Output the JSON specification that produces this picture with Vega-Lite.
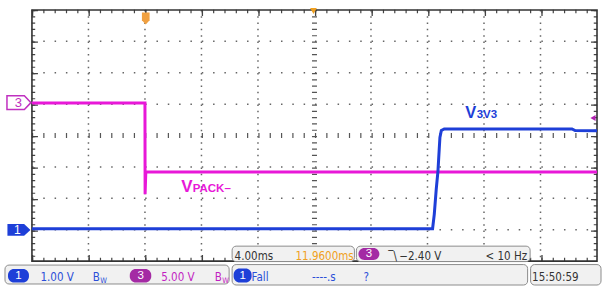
{
"$schema": "https://vega.github.io/schema/vega-lite/v6.json",
"width": 603, "height": 286,
"autosize": {"type": "fit", "contains": "padding"},
"padding": 0,
"background": "white",
"config": {"view": {"stroke": null}},
"datasets": {
"ch1": [{"t":-8,"v":-2.97},{"t":20.36,"v":-2.97},{"t":20.48,"v":-2.51},{"t":20.62,"v":-1.71},{"t":20.74,"v":-1.14},{"t":20.83,"v":-0.44},{"t":20.88,"v":-0.06},{"t":20.98,"v":0.16},{"t":21.19,"v":0.21},{"t":30.23,"v":0.21},{"t":30.45,"v":0.16},{"t":32,"v":0.15}],
"ch3": [{"t":-8,"v":1.04},{"t":0,"v":1.04},{"t":0.01,"v":-1.87},{"t":0.06,"v":-1.16},{"t":32,"v":-1.16}],
"vgrid": [{"t":-4},{"t":0},{"t":4},{"t":8},{"t":16},{"t":20},{"t":24},{"t":28}],
"hgrid": [{"v":-3},{"v":-2},{"v":-1},{"v":1},{"v":2},{"v":3}],
"center": [{"t":12,"v":0}],
"vborder": [{"t":-7.894},{"t":31.894}],
"hborder": [{"v":3.952},{"v":-3.952}],
"vmajor": [{"t":-7.788},{"t":31.788}],
"hmajor": [{"v":3.905},{"v":-3.905}],
"boxes": [{"t":6.17,"t2":14.827,"v":-3.524,"v2":-4.016},{"t":14.968,"t2":27.265,"v":-3.524,"v2":-4.016},{"t":-9.908,"t2":5.958,"v":-4.127,"v2":-4.73},{"t":6.17,"t2":27.088,"v":-4.111,"v2":-4.762},{"t":27.3,"t2":32.283,"v":-4.111,"v2":-4.762}],
"pillBlue": [{"t":-9.696,"t2":-8.212,"v":-4.254,"v2":-4.683},{"t":6.276,"t2":7.548,"v":-4.238,"v2":-4.683}],
"pillPurple": [{"t":-1.074,"t2":0.445,"v":-4.254,"v2":-4.683},{"t":15.11,"t2":16.594,"v":-3.587,"v2":-3.968}],
"pillText": [{"t":-8.954,"v":-4.46,"s":"1"},{"t":-0.297,"v":-4.46,"s":"3"},{"t":6.912,"v":-4.46,"s":"1"},{"t":15.85,"v":-3.778,"s":"3"}],
"txtBlue": [{"t":-7.399,"v":-4.635,"s":"1.00 V"},{"t":-3.689,"v":-4.635,"s":"B"},{"t":7.548,"v":-4.635,"s":"Fall"},{"t":11.823,"v":-4.635,"s":"----.s"},{"t":15.463,"v":-4.635,"s":"?"}],
"subBlue": [{"t":-3.159,"v":-4.698,"s":"W"}],
"txtMag": [{"t":1.152,"v":-4.635,"s":"5.00 V"},{"t":4.933,"v":-4.635,"s":"B"}],
"subMag": [{"t":5.463,"v":-4.698,"s":"W"}],
"txtDark": [{"t":6.346,"v":-3.952,"s":"4.00ms"},{"t":17.23,"v":-3.952,"s":"‾\\"},{"t":18.007,"v":-3.952,"s":"−2.40 V"},{"t":27.406,"v":-4.635,"s":"15:50:59"}],
"txtDarkR": [{"t":27.053,"v":-3.952,"s":"< 10 Hz"}],
"txtOrange": [{"t":10.657,"v":-3.952,"s":"11.9600ms"}],
"mk3": [{"t":-8.919,"v":1.048}],
"mk3t": [{"t":-8.954,"v":1.032,"s":"3"}],
"mk1": [{"t":-8.919,"v":-3.006}],
"mk1t": [{"t":-9.025,"v":-3.006,"s":"1"}],
"trig": [{"t":0.0565,"v":3.73}],
"expand": [{"t":11.93,"v":3.968}],
"arrow": [{"t":31.717,"v":0.556}],
"lblBigV": [{"t":22.671,"v":0.556,"s":"V"}],
"lblSub3": [{"t":23.484,"v":0.556,"s":"3V3"}],
"lblBigP": [{"t":2.565,"v":-1.81,"s":"V"}],
"lblSubP": [{"t":3.378,"v":-1.81,"s":"PACK–"}]
},
"layer": [
{"data":{"name":"vgrid"},"mark":{"type":"rule","stroke":"#666","strokeWidth":1.5,"strokeDash":[1.5,4.8]},
 "encoding":{"x":{"field":"t","type":"quantitative","scale":{"domain":[-10.2615,32.3534],"nice":false,"zero":false},"axis":null},
 "y":{"datum":4,"type":"quantitative","scale":{"domain":[-4.7619,4.3175],"nice":false,"zero":false},"axis":null},"y2":{"datum":-4}}},
{"data":{"name":"hgrid"},"mark":{"type":"rule","stroke":"#666","strokeWidth":1.5,"strokeDash":[1.5,9.82]},
 "encoding":{"y":{"field":"v","type":"quantitative","scale":{"domain":[-4.7619,4.3175],"nice":false,"zero":false},"axis":null},
 "x":{"datum":-8,"type":"quantitative","scale":{"domain":[-10.2615,32.3534],"nice":false,"zero":false},"axis":null},"x2":{"datum":32}}},
{"data":{"name":"center"},"mark":{"type":"rule","stroke":"#555","strokeWidth":5,"strokeDash":[1.2,5.1]},
 "encoding":{"x":{"field":"t","type":"quantitative","scale":{"domain":[-10.2615,32.3534],"nice":false,"zero":false},"axis":null},
 "y":{"datum":4,"type":"quantitative","scale":{"domain":[-4.7619,4.3175],"nice":false,"zero":false},"axis":null},"y2":{"datum":-4}}},
{"data":{"name":"center"},"mark":{"type":"rule","stroke":"#555","strokeWidth":5,"strokeDash":[1.2,10.12]},
 "encoding":{"y":{"field":"v","type":"quantitative","scale":{"domain":[-4.7619,4.3175],"nice":false,"zero":false},"axis":null},
 "x":{"datum":-8,"type":"quantitative","scale":{"domain":[-10.2615,32.3534],"nice":false,"zero":false},"axis":null},"x2":{"datum":32}}},
{"data":{"name":"vborder"},"mark":{"type":"rule","stroke":"#444","strokeWidth":3.5,"strokeDash":[1.2,5.1]},
 "encoding":{"x":{"field":"t","type":"quantitative","scale":{"domain":[-10.2615,32.3534],"nice":false,"zero":false},"axis":null},
 "y":{"datum":4,"type":"quantitative","scale":{"domain":[-4.7619,4.3175],"nice":false,"zero":false},"axis":null},"y2":{"datum":-4}}},
{"data":{"name":"hborder"},"mark":{"type":"rule","stroke":"#444","strokeWidth":3.5,"strokeDash":[1.2,10.12]},
 "encoding":{"y":{"field":"v","type":"quantitative","scale":{"domain":[-4.7619,4.3175],"nice":false,"zero":false},"axis":null},
 "x":{"datum":-8,"type":"quantitative","scale":{"domain":[-10.2615,32.3534],"nice":false,"zero":false},"axis":null},"x2":{"datum":32}}},
{"data":{"name":"vmajor"},"mark":{"type":"rule","stroke":"#444","strokeWidth":6,"strokeDash":[1.3,30.2]},
 "encoding":{"x":{"field":"t","type":"quantitative","scale":{"domain":[-10.2615,32.3534],"nice":false,"zero":false},"axis":null},
 "y":{"datum":4,"type":"quantitative","scale":{"domain":[-4.7619,4.3175],"nice":false,"zero":false},"axis":null},"y2":{"datum":-4}}},
{"data":{"name":"hmajor"},"mark":{"type":"rule","stroke":"#444","strokeWidth":6,"strokeDash":[1.3,55.3]},
 "encoding":{"y":{"field":"v","type":"quantitative","scale":{"domain":[-4.7619,4.3175],"nice":false,"zero":false},"axis":null},
 "x":{"datum":-8,"type":"quantitative","scale":{"domain":[-10.2615,32.3534],"nice":false,"zero":false},"axis":null},"x2":{"datum":32}}},
{"data":{"values":[{}]},"mark":{"type":"rect","fill":null,"fillOpacity":0,"stroke":"#333","strokeWidth":1.6},
 "encoding":{"x":{"datum":-8,"type":"quantitative","scale":{"domain":[-10.2615,32.3534],"nice":false,"zero":false},"axis":null},"x2":{"datum":32},
 "y":{"datum":4,"type":"quantitative","scale":{"domain":[-4.7619,4.3175],"nice":false,"zero":false},"axis":null},"y2":{"datum":-4}}},
{"data":{"name":"ch3"},"mark":{"type":"line","stroke":"#e818d8","strokeWidth":3,"interpolate":"linear"},
 "encoding":{"x":{"field":"t","type":"quantitative","scale":{"domain":[-10.2615,32.3534],"nice":false,"zero":false},"axis":null},
 "y":{"field":"v","type":"quantitative","scale":{"domain":[-4.7619,4.3175],"nice":false,"zero":false},"axis":null}}},
{"data":{"name":"ch1"},"mark":{"type":"line","stroke":"#1e3fd8","strokeWidth":3,"interpolate":"linear"},
 "encoding":{"x":{"field":"t","type":"quantitative","scale":{"domain":[-10.2615,32.3534],"nice":false,"zero":false},"axis":null},
 "y":{"field":"v","type":"quantitative","scale":{"domain":[-4.7619,4.3175],"nice":false,"zero":false},"axis":null}}},
{"data":{"name":"boxes"},"mark":{"type":"rect","fill":"#f1f1f1","stroke":"#8c8c8c","strokeWidth":1,"cornerRadius":4},
 "encoding":{"x":{"field":"t","type":"quantitative","scale":{"domain":[-10.2615,32.3534],"nice":false,"zero":false},"axis":null},"x2":{"field":"t2"},
 "y":{"field":"v","type":"quantitative","scale":{"domain":[-4.7619,4.3175],"nice":false,"zero":false},"axis":null},"y2":{"field":"v2"}}},
{"data":{"name":"pillBlue"},"mark":{"type":"rect","fill":"#1e3fd8","cornerRadius":6},
 "encoding":{"x":{"field":"t","type":"quantitative","scale":{"domain":[-10.2615,32.3534],"nice":false,"zero":false},"axis":null},"x2":{"field":"t2"},
 "y":{"field":"v","type":"quantitative","scale":{"domain":[-4.7619,4.3175],"nice":false,"zero":false},"axis":null},"y2":{"field":"v2"}}},
{"data":{"name":"pillPurple"},"mark":{"type":"rect","fill":"#a42aa4","cornerRadius":6},
 "encoding":{"x":{"field":"t","type":"quantitative","scale":{"domain":[-10.2615,32.3534],"nice":false,"zero":false},"axis":null},"x2":{"field":"t2"},
 "y":{"field":"v","type":"quantitative","scale":{"domain":[-4.7619,4.3175],"nice":false,"zero":false},"axis":null},"y2":{"field":"v2"}}},
{"data":{"name":"pillText"},"mark":{"type":"text","color":"white","font":"Liberation Sans","fontSize":11.5,"align":"center","baseline":"middle"},
 "encoding":{"x":{"field":"t","type":"quantitative","scale":{"domain":[-10.2615,32.3534],"nice":false,"zero":false},"axis":null},
 "y":{"field":"v","type":"quantitative","scale":{"domain":[-4.7619,4.3175],"nice":false,"zero":false},"axis":null},"text":{"field":"s"}}},
{"data":{"name":"txtBlue"},"mark":{"type":"text","color":"#2b4fd8","font":"DejaVu Sans Condensed, sans-serif","fontSize":11.5,"align":"left","baseline":"alphabetic"},
 "encoding":{"x":{"field":"t","type":"quantitative","scale":{"domain":[-10.2615,32.3534],"nice":false,"zero":false},"axis":null},
 "y":{"field":"v","type":"quantitative","scale":{"domain":[-4.7619,4.3175],"nice":false,"zero":false},"axis":null},"text":{"field":"s"}}},
{"data":{"name":"subBlue"},"mark":{"type":"text","color":"#2b4fd8","font":"DejaVu Sans Condensed, sans-serif","fontSize":7.5,"align":"left","baseline":"alphabetic"},
 "encoding":{"x":{"field":"t","type":"quantitative","scale":{"domain":[-10.2615,32.3534],"nice":false,"zero":false},"axis":null},
 "y":{"field":"v","type":"quantitative","scale":{"domain":[-4.7619,4.3175],"nice":false,"zero":false},"axis":null},"text":{"field":"s"}}},
{"data":{"name":"txtMag"},"mark":{"type":"text","color":"#c21fc2","font":"DejaVu Sans Condensed, sans-serif","fontSize":11.5,"align":"left","baseline":"alphabetic"},
 "encoding":{"x":{"field":"t","type":"quantitative","scale":{"domain":[-10.2615,32.3534],"nice":false,"zero":false},"axis":null},
 "y":{"field":"v","type":"quantitative","scale":{"domain":[-4.7619,4.3175],"nice":false,"zero":false},"axis":null},"text":{"field":"s"}}},
{"data":{"name":"subMag"},"mark":{"type":"text","color":"#c21fc2","font":"DejaVu Sans Condensed, sans-serif","fontSize":7.5,"align":"left","baseline":"alphabetic"},
 "encoding":{"x":{"field":"t","type":"quantitative","scale":{"domain":[-10.2615,32.3534],"nice":false,"zero":false},"axis":null},
 "y":{"field":"v","type":"quantitative","scale":{"domain":[-4.7619,4.3175],"nice":false,"zero":false},"axis":null},"text":{"field":"s"}}},
{"data":{"name":"txtDark"},"mark":{"type":"text","color":"#333","font":"DejaVu Sans Condensed, sans-serif","fontSize":11.5,"align":"left","baseline":"alphabetic"},
 "encoding":{"x":{"field":"t","type":"quantitative","scale":{"domain":[-10.2615,32.3534],"nice":false,"zero":false},"axis":null},
 "y":{"field":"v","type":"quantitative","scale":{"domain":[-4.7619,4.3175],"nice":false,"zero":false},"axis":null},"text":{"field":"s"}}},
{"data":{"name":"txtDarkR"},"mark":{"type":"text","color":"#333","font":"DejaVu Sans Condensed, sans-serif","fontSize":11.5,"align":"right","baseline":"alphabetic"},
 "encoding":{"x":{"field":"t","type":"quantitative","scale":{"domain":[-10.2615,32.3534],"nice":false,"zero":false},"axis":null},
 "y":{"field":"v","type":"quantitative","scale":{"domain":[-4.7619,4.3175],"nice":false,"zero":false},"axis":null},"text":{"field":"s"}}},
{"data":{"name":"txtOrange"},"mark":{"type":"text","color":"#f0a020","font":"DejaVu Sans Condensed, sans-serif","fontSize":11.5,"align":"left","baseline":"alphabetic"},
 "encoding":{"x":{"field":"t","type":"quantitative","scale":{"domain":[-10.2615,32.3534],"nice":false,"zero":false},"axis":null},
 "y":{"field":"v","type":"quantitative","scale":{"domain":[-4.7619,4.3175],"nice":false,"zero":false},"axis":null},"text":{"field":"s"}}},
{"data":{"name":"mk3"},"mark":{"type":"point","shape":"M-1,-0.58L0.45,-0.58L1,0L0.45,0.58L-1,0.58Z","size":576,"filled":true,"fill":"white","stroke":"#c030c0","strokeWidth":1.5,"opacity":1},
 "encoding":{"x":{"field":"t","type":"quantitative","scale":{"domain":[-10.2615,32.3534],"nice":false,"zero":false},"axis":null},
 "y":{"field":"v","type":"quantitative","scale":{"domain":[-4.7619,4.3175],"nice":false,"zero":false},"axis":null}}},
{"data":{"name":"mk3t"},"mark":{"type":"text","color":"#c030c0","font":"Liberation Sans","fontSize":13,"align":"center","baseline":"middle"},
 "encoding":{"x":{"field":"t","type":"quantitative","scale":{"domain":[-10.2615,32.3534],"nice":false,"zero":false},"axis":null},
 "y":{"field":"v","type":"quantitative","scale":{"domain":[-4.7619,4.3175],"nice":false,"zero":false},"axis":null},"text":{"field":"s"}}},
{"data":{"name":"mk1"},"mark":{"type":"point","shape":"M-1,-0.52L0.45,-0.52L1,0L0.45,0.52L-1,0.52Z","size":529,"filled":true,"fill":"#1e3fd8","opacity":1},
 "encoding":{"x":{"field":"t","type":"quantitative","scale":{"domain":[-10.2615,32.3534],"nice":false,"zero":false},"axis":null},
 "y":{"field":"v","type":"quantitative","scale":{"domain":[-4.7619,4.3175],"nice":false,"zero":false},"axis":null}}},
{"data":{"name":"mk1t"},"mark":{"type":"text","color":"white","font":"Liberation Sans","fontSize":12,"align":"center","baseline":"middle"},
 "encoding":{"x":{"field":"t","type":"quantitative","scale":{"domain":[-10.2615,32.3534],"nice":false,"zero":false},"axis":null},
 "y":{"field":"v","type":"quantitative","scale":{"domain":[-4.7619,4.3175],"nice":false,"zero":false},"axis":null},"text":{"field":"s"}}},
{"data":{"name":"trig"},"mark":{"type":"point","shape":"M-0.64,-1L0.64,-1L0.64,0.3L0,1L-0.64,0.3Z","size":144,"filled":true,"fill":"#f0a040","opacity":1},
 "encoding":{"x":{"field":"t","type":"quantitative","scale":{"domain":[-10.2615,32.3534],"nice":false,"zero":false},"axis":null},
 "y":{"field":"v","type":"quantitative","scale":{"domain":[-4.7619,4.3175],"nice":false,"zero":false},"axis":null}}},
{"data":{"name":"expand"},"mark":{"type":"point","shape":"triangle-down","size":45,"filled":true,"fill":"#f0a020","opacity":1},
 "encoding":{"x":{"field":"t","type":"quantitative","scale":{"domain":[-10.2615,32.3534],"nice":false,"zero":false},"axis":null},
 "y":{"field":"v","type":"quantitative","scale":{"domain":[-4.7619,4.3175],"nice":false,"zero":false},"axis":null}}},
{"data":{"name":"arrow"},"mark":{"type":"point","shape":"triangle-left","size":35,"filled":true,"fill":"#b020b0","opacity":1},
 "encoding":{"x":{"field":"t","type":"quantitative","scale":{"domain":[-10.2615,32.3534],"nice":false,"zero":false},"axis":null},
 "y":{"field":"v","type":"quantitative","scale":{"domain":[-4.7619,4.3175],"nice":false,"zero":false},"axis":null}}},
{"data":{"name":"lblBigV"},"mark":{"type":"text","color":"#1e3fd8","font":"Liberation Sans","fontWeight":"bold","fontSize":16.5,"align":"left","baseline":"alphabetic"},
 "encoding":{"x":{"field":"t","type":"quantitative","scale":{"domain":[-10.2615,32.3534],"nice":false,"zero":false},"axis":null},
 "y":{"field":"v","type":"quantitative","scale":{"domain":[-4.7619,4.3175],"nice":false,"zero":false},"axis":null},"text":{"field":"s"}}},
{"data":{"name":"lblSub3"},"mark":{"type":"text","color":"#1e3fd8","font":"Liberation Sans","fontWeight":"bold","fontSize":11.5,"align":"left","baseline":"alphabetic"},
 "encoding":{"x":{"field":"t","type":"quantitative","scale":{"domain":[-10.2615,32.3534],"nice":false,"zero":false},"axis":null},
 "y":{"field":"v","type":"quantitative","scale":{"domain":[-4.7619,4.3175],"nice":false,"zero":false},"axis":null},"text":{"field":"s"}}},
{"data":{"name":"lblBigP"},"mark":{"type":"text","color":"#e818d8","font":"Liberation Sans","fontWeight":"bold","fontSize":17,"align":"left","baseline":"alphabetic"},
 "encoding":{"x":{"field":"t","type":"quantitative","scale":{"domain":[-10.2615,32.3534],"nice":false,"zero":false},"axis":null},
 "y":{"field":"v","type":"quantitative","scale":{"domain":[-4.7619,4.3175],"nice":false,"zero":false},"axis":null},"text":{"field":"s"}}},
{"data":{"name":"lblSubP"},"mark":{"type":"text","color":"#e818d8","font":"Liberation Sans","fontWeight":"bold","fontSize":11.5,"align":"left","baseline":"alphabetic"},
 "encoding":{"x":{"field":"t","type":"quantitative","scale":{"domain":[-10.2615,32.3534],"nice":false,"zero":false},"axis":null},
 "y":{"field":"v","type":"quantitative","scale":{"domain":[-4.7619,4.3175],"nice":false,"zero":false},"axis":null},"text":{"field":"s"}}}
]
}
